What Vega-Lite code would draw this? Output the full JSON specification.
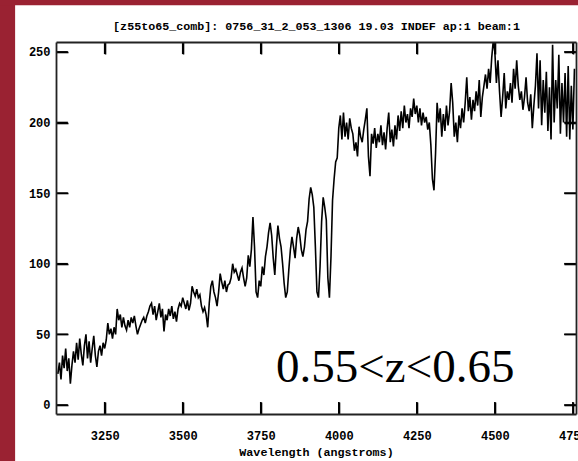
{
  "$schema": "https://vega.github.io/schema/vega-lite/v6.json",
  "width": 520,
  "height": 372,
  "autosize": "none",
  "padding": {"left": 56, "top": 42, "right": 2, "bottom": 47},
  "background": "white",
  "view": {"stroke": null},
  "title": {
    "text": "NOAO/IRAF V2.11EXPORT pimbblet@piscopia.physics.uq.edu.au Wed 20:04:38 08-",
    "font": "Liberation Mono",
    "fontSize": 11.7,
    "fontWeight": "bold",
    "color": "black",
    "anchor": "middle",
    "dx": -28,
    "offset": -13,
    "zindex": 1
  },
  "data": {
    "values": [
      {"w":3100,"f":22},{"w":3105,"f":30},{"w":3110,"f":18},{"w":3115,"f":35},{"w":3120,"f":26},{"w":3125,"f":40},{"w":3130,"f":24},{"w":3135,"f":33},{"w":3140,"f":15},{"w":3145,"f":28},
      {"w":3150,"f":38},{"w":3155,"f":30},{"w":3160,"f":44},{"w":3165,"f":32},{"w":3170,"f":47},{"w":3175,"f":36},{"w":3180,"f":28},{"w":3185,"f":42},{"w":3190,"f":50},{"w":3195,"f":33},
      {"w":3200,"f":45},{"w":3205,"f":30},{"w":3210,"f":40},{"w":3215,"f":49},{"w":3220,"f":35},{"w":3225,"f":27},{"w":3230,"f":38},{"w":3235,"f":42},{"w":3240,"f":35},{"w":3245,"f":44},
      {"w":3250,"f":40},{"w":3255,"f":46},{"w":3260,"f":58},{"w":3265,"f":50},{"w":3270,"f":54},{"w":3275,"f":47},{"w":3280,"f":55},{"w":3285,"f":50},{"w":3290,"f":68},{"w":3295,"f":60},
      {"w":3300,"f":64},{"w":3305,"f":55},{"w":3310,"f":62},{"w":3315,"f":56},{"w":3320,"f":53},{"w":3325,"f":60},{"w":3330,"f":55},{"w":3335,"f":62},{"w":3340,"f":58},{"w":3345,"f":63},
      {"w":3350,"f":56},{"w":3355,"f":50},{"w":3360,"f":54},{"w":3365,"f":57},{"w":3370,"f":60},{"w":3375,"f":62},{"w":3380,"f":58},{"w":3385,"f":63},{"w":3390,"f":66},{"w":3395,"f":70},
      {"w":3400,"f":72},{"w":3405,"f":64},{"w":3410,"f":70},{"w":3415,"f":60},{"w":3420,"f":66},{"w":3425,"f":72},{"w":3430,"f":62},{"w":3435,"f":68},{"w":3440,"f":52},{"w":3445,"f":64},
      {"w":3450,"f":60},{"w":3455,"f":68},{"w":3460,"f":63},{"w":3465,"f":70},{"w":3470,"f":61},{"w":3475,"f":66},{"w":3480,"f":59},{"w":3485,"f":68},{"w":3490,"f":72},{"w":3495,"f":70},
      {"w":3500,"f":76},{"w":3505,"f":72},{"w":3510,"f":68},{"w":3515,"f":74},{"w":3520,"f":67},{"w":3525,"f":72},{"w":3530,"f":84},{"w":3535,"f":80},{"w":3540,"f":77},{"w":3545,"f":82},
      {"w":3550,"f":76},{"w":3555,"f":78},{"w":3560,"f":70},{"w":3565,"f":66},{"w":3570,"f":69},{"w":3575,"f":64},{"w":3580,"f":55},{"w":3585,"f":72},{"w":3590,"f":84},{"w":3595,"f":88},
      {"w":3600,"f":80},{"w":3605,"f":76},{"w":3610,"f":70},{"w":3615,"f":80},{"w":3620,"f":93},{"w":3625,"f":87},{"w":3630,"f":82},{"w":3635,"f":88},{"w":3640,"f":80},{"w":3645,"f":85},
      {"w":3650,"f":86},{"w":3655,"f":90},{"w":3660,"f":100},{"w":3665,"f":94},{"w":3670,"f":96},{"w":3675,"f":92},{"w":3680,"f":88},{"w":3685,"f":94},{"w":3690,"f":97},{"w":3695,"f":90},
      {"w":3700,"f":84},{"w":3705,"f":90},{"w":3710,"f":106},{"w":3715,"f":98},{"w":3720,"f":110},{"w":3725,"f":133},{"w":3730,"f":112},{"w":3735,"f":80},{"w":3740,"f":76},{"w":3745,"f":88},
      {"w":3750,"f":84},{"w":3755,"f":98},{"w":3760,"f":92},{"w":3765,"f":105},{"w":3770,"f":112},{"w":3775,"f":122},{"w":3780,"f":129},{"w":3785,"f":120},{"w":3790,"f":104},{"w":3795,"f":92},
      {"w":3800,"f":112},{"w":3805,"f":127},{"w":3810,"f":118},{"w":3815,"f":112},{"w":3820,"f":100},{"w":3825,"f":86},{"w":3830,"f":76},{"w":3835,"f":80},{"w":3840,"f":96},{"w":3845,"f":110},
      {"w":3850,"f":119},{"w":3855,"f":112},{"w":3860,"f":104},{"w":3865,"f":118},{"w":3870,"f":126},{"w":3875,"f":120},{"w":3880,"f":110},{"w":3885,"f":105},{"w":3890,"f":112},{"w":3895,"f":124},
      {"w":3900,"f":130},{"w":3905,"f":146},{"w":3910,"f":154},{"w":3915,"f":149},{"w":3920,"f":140},{"w":3925,"f":112},{"w":3930,"f":80},{"w":3935,"f":76},{"w":3940,"f":98},{"w":3945,"f":130},
      {"w":3950,"f":147},{"w":3955,"f":140},{"w":3960,"f":131},{"w":3965,"f":90},{"w":3970,"f":76},{"w":3975,"f":105},{"w":3980,"f":145},{"w":3985,"f":160},{"w":3990,"f":172},{"w":3995,"f":175},
      {"w":4000,"f":196},{"w":4005,"f":205},{"w":4010,"f":188},{"w":4015,"f":207},{"w":4020,"f":190},{"w":4025,"f":200},{"w":4030,"f":188},{"w":4035,"f":203},{"w":4040,"f":196},{"w":4045,"f":192},
      {"w":4050,"f":180},{"w":4055,"f":186},{"w":4060,"f":176},{"w":4065,"f":197},{"w":4070,"f":190},{"w":4075,"f":186},{"w":4080,"f":195},{"w":4085,"f":202},{"w":4090,"f":210},{"w":4095,"f":176},
      {"w":4100,"f":162},{"w":4105,"f":192},{"w":4110,"f":185},{"w":4115,"f":196},{"w":4120,"f":182},{"w":4125,"f":192},{"w":4130,"f":186},{"w":4135,"f":198},{"w":4140,"f":184},{"w":4145,"f":193},
      {"w":4150,"f":181},{"w":4155,"f":196},{"w":4160,"f":207},{"w":4165,"f":186},{"w":4170,"f":195},{"w":4175,"f":183},{"w":4180,"f":198},{"w":4185,"f":188},{"w":4190,"f":205},{"w":4195,"f":194},
      {"w":4200,"f":208},{"w":4205,"f":196},{"w":4210,"f":212},{"w":4215,"f":200},{"w":4220,"f":206},{"w":4225,"f":196},{"w":4230,"f":210},{"w":4235,"f":204},{"w":4240,"f":217},{"w":4245,"f":206},
      {"w":4250,"f":212},{"w":4255,"f":200},{"w":4260,"f":210},{"w":4265,"f":198},{"w":4270,"f":207},{"w":4275,"f":200},{"w":4280,"f":204},{"w":4285,"f":195},{"w":4290,"f":200},{"w":4295,"f":184},
      {"w":4300,"f":160},{"w":4305,"f":152},{"w":4310,"f":178},{"w":4315,"f":214},{"w":4320,"f":200},{"w":4325,"f":210},{"w":4330,"f":190},{"w":4335,"f":206},{"w":4340,"f":194},{"w":4345,"f":212},
      {"w":4350,"f":198},{"w":4355,"f":208},{"w":4360,"f":228},{"w":4365,"f":214},{"w":4370,"f":190},{"w":4375,"f":200},{"w":4380,"f":186},{"w":4385,"f":205},{"w":4390,"f":196},{"w":4395,"f":210},
      {"w":4400,"f":200},{"w":4405,"f":214},{"w":4410,"f":232},{"w":4415,"f":208},{"w":4420,"f":218},{"w":4425,"f":202},{"w":4430,"f":216},{"w":4435,"f":208},{"w":4440,"f":222},{"w":4445,"f":212},
      {"w":4450,"f":230},{"w":4455,"f":204},{"w":4460,"f":218},{"w":4465,"f":226},{"w":4470,"f":234},{"w":4475,"f":224},{"w":4480,"f":238},{"w":4485,"f":228},{"w":4490,"f":246},{"w":4495,"f":258},
      {"w":4500,"f":250},{"w":4505,"f":228},{"w":4510,"f":244},{"w":4515,"f":222},{"w":4520,"f":204},{"w":4525,"f":218},{"w":4530,"f":235},{"w":4535,"f":210},{"w":4540,"f":222},{"w":4545,"f":216},
      {"w":4550,"f":228},{"w":4555,"f":214},{"w":4560,"f":238},{"w":4565,"f":224},{"w":4570,"f":244},{"w":4575,"f":226},{"w":4580,"f":216},{"w":4585,"f":222},{"w":4590,"f":209},{"w":4595,"f":218},
      {"w":4600,"f":232},{"w":4605,"f":214},{"w":4610,"f":208},{"w":4615,"f":220},{"w":4620,"f":196},{"w":4625,"f":212},{"w":4630,"f":226},{"w":4635,"f":249},{"w":4640,"f":210},{"w":4645,"f":244},
      {"w":4650,"f":198},{"w":4655,"f":230},{"w":4660,"f":207},{"w":4665,"f":236},{"w":4670,"f":194},{"w":4675,"f":225},{"w":4680,"f":188},{"w":4685,"f":255},{"w":4690,"f":200},{"w":4695,"f":230},
      {"w":4700,"f":210},{"w":4705,"f":248},{"w":4710,"f":192},{"w":4715,"f":228},{"w":4720,"f":200},{"w":4725,"f":235},{"w":4730,"f":190},{"w":4735,"f":240},{"w":4740,"f":188},{"w":4745,"f":226},
      {"w":4750,"f":195},{"w":4755,"f":238}
    ]
  },
  "config": {
    "axis": {
      "domainColor": "#222",
      "domainWidth": 1.8,
      "tickColor": "black",
      "tickWidth": 1.6,
      "tickSize": -12,
      "grid": false,
      "labelFont": "Liberation Mono",
      "labelFontSize": 12,
      "labelFontWeight": "bold",
      "labelColor": "black",
      "titleFont": "Liberation Mono",
      "titleFontSize": 11.7,
      "titleFontWeight": "bold",
      "titleColor": "black",
      "labelOverlap": false,
      "labelFlush": false
    }
  },
  "resolve": {"axis": {"x": "independent", "y": "independent"}},
  "layer": [
    {
      "mark": {"type": "line", "color": "black", "strokeWidth": 1.6, "clip": true},
      "encoding": {
        "x": {"field": "w", "type": "quantitative", "scale": {"domain": [3094, 4760], "nice": false, "zero": false}, "axis": {"zindex": 2, "orient": "bottom", "title": "Wavelength (angstroms)", "values": [3250, 3500, 3750, 4000, 4250, 4500, 4750], "labelExpr": "datum.value", "labelPadding": 28, "titlePadding": 5}},
        "y": {"field": "f", "type": "quantitative", "scale": {"domain": [-6.4, 257], "nice": false, "zero": false}, "axis": {"zindex": 2, "orient": "left", "title": null, "values": [0, 50, 100, 150, 200, 250], "labelPadding": 18}}
      }
    },
    {
      "mark": {"type": "line", "opacity": 0},
      "encoding": {
        "x": {"field": "w", "type": "quantitative", "axis": {"zindex": 2, "orient": "top", "labels": false, "title": "[z55to65_comb]: 0756_31_2_053_1306 19.03 INDEF ap:1 beam:1", "values": [3250, 3500, 3750, 4000, 4250, 4500, 4750], "titlePadding": 10}},
        "y": {"field": "f", "type": "quantitative", "axis": {"zindex": 2, "orient": "right", "labels": false, "title": null, "values": [0, 50, 100, 150, 200, 250]}}
      }
    },
    {
      "data": {"values": [{"v":3250},{"v":3500},{"v":3750},{"v":4000},{"v":4250},{"v":4500},{"v":4750}]},
      "mark": {"type": "rule", "color": "black", "strokeWidth": 1.6, "clip": false},
      "encoding": {
        "x": {"field": "v", "type": "quantitative", "axis": null},
        "y": {"datum": -6.4, "type": "quantitative", "axis": null},
        "y2": {"datum": 2.1}
      }
    },
    {
      "data": {"values": [{"v":3250},{"v":3500},{"v":3750},{"v":4000},{"v":4250},{"v":4500},{"v":4750}]},
      "mark": {"type": "rule", "color": "black", "strokeWidth": 1.6, "clip": false},
      "encoding": {
        "x": {"field": "v", "type": "quantitative", "axis": null},
        "y": {"datum": 257, "type": "quantitative", "axis": null},
        "y2": {"datum": 248.5}
      }
    },
    {
      "data": {"values": [{"v":0},{"v":50},{"v":100},{"v":150},{"v":200},{"v":250}]},
      "mark": {"type": "rule", "color": "black", "strokeWidth": 1.6, "clip": false},
      "encoding": {
        "y": {"field": "v", "type": "quantitative", "axis": null},
        "x": {"datum": 3094, "type": "quantitative", "axis": null},
        "x2": {"datum": 3132}
      }
    },
    {
      "data": {"values": [{"v":0},{"v":50},{"v":100},{"v":150},{"v":200},{"v":250}]},
      "mark": {"type": "rule", "color": "black", "strokeWidth": 1.6, "clip": false},
      "encoding": {
        "y": {"field": "v", "type": "quantitative", "axis": null},
        "x": {"datum": 4760, "type": "quantitative", "axis": null},
        "x2": {"datum": 4722}
      }
    },
    {
      "data": {"values": [{}]},
      "mark": {"type": "text", "text": "0.55<z<0.65", "font": "Liberation Serif", "fontSize": 47, "color": "black", "align": "center", "baseline": "alphabetic"},
      "encoding": {
        "x": {"datum": 4181, "type": "quantitative", "axis": null},
        "y": {"datum": 16, "type": "quantitative", "axis": null}
      }
    },
    {
      "data": {"values": [{}]},
      "mark": {"type": "rect", "fill": "#9a2232", "clip": false},
      "encoding": {
        "x": {"datum": 2700, "type": "quantitative", "axis": null},
        "x2": {"datum": 2963},
        "y": {"datum": 330, "type": "quantitative", "axis": null},
        "y2": {"datum": -120}
      }
    },
    {
      "data": {"values": [{}]},
      "mark": {"type": "rect", "fill": "#9a2232", "clip": false},
      "encoding": {
        "x": {"datum": 2700, "type": "quantitative", "axis": null},
        "x2": {"datum": 5000},
        "y": {"datum": 330, "type": "quantitative", "axis": null},
        "y2": {"datum": 283}
      }
    }
  ]
}
